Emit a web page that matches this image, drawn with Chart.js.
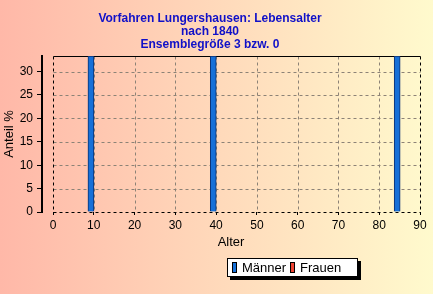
<!DOCTYPE html>
<html lang="de">
<head>
<meta charset="utf-8">
<title>Vorfahren Lungershausen: Lebensalter</title>
<script src="https://cdn.jsdelivr.net/npm/chart.js@4.4.0/dist/chart.umd.min.js"></script>
<style>
    html, body { margin: 0; padding: 0; }
    body {
        width: 433px; height: 294px; overflow: hidden; position: relative;
        background: linear-gradient(to right, #ffb8a8, #fffacd);
        font-family: "Liberation Sans", Arial, sans-serif;
    }
    #diagramm { position: absolute; left: 0; top: 0; }
    #legende {
        position: absolute; left: 227px; top: 258px; width: 129px; height: 17px;
        background: #fff; border: 1px solid #000; box-shadow: 3px 3px 0 #000;
        font-size: 13px; line-height: 17px; color: #000; white-space: nowrap;
    }
    #legende .eintrag { display: inline-block; margin-left: 4px; }
    #legende .farbe {
        display: inline-block; width: 3px; height: 9px; border: 1px solid #000;
        margin-right: 5px; vertical-align: -1px;
    }
</style>
</head>
<body>
<canvas id="diagramm" width="433" height="294"></canvas>
<div id="legende"></div>
<script>
// --- Daten ---
const titelZeilen = ['Vorfahren Lungershausen: Lebensalter', 'nach 1840', 'Ensemblegröße 3 bzw. 0'];
const maennerAlter = [9.3, 39.3, 84.4];
const maennerAnteil = [33.33, 33.33, 33.33];
const frauenAlter = [];
const frauenAnteil = [];
const xTickWerte = [0, 10, 20, 30, 40, 50, 60, 70, 80, 90];
const yTickWerte = [0, 5, 10, 15, 20, 25, 30];

const schrift = '"Liberation Sans", Arial, sans-serif';

function punkte(xs, ys) {
    return xs.map((x, i) => ({ x: x, y: ys[i] }));
}

// Gitter und Rahmen nur zwischen 0 und 90 zeichnen (die y-Achse steht etwas abseits)
const rahmenPlugin = {
    id: 'rahmen',
    beforeDatasetsDraw(chart) {
        const { ctx, scales: { x, y } } = chart;
        const links = Math.round(x.getPixelForValue(0)) + 0.5;
        const rechts = Math.round(x.getPixelForValue(90)) + 0.5;
        const oben = Math.round(y.getPixelForValue(y.max)) + 0.5;
        const unten = Math.round(y.getPixelForValue(0)) + 0.5;

        function linie(x1, y1, x2, y2) {
            ctx.beginPath();
            ctx.moveTo(x1, y1);
            ctx.lineTo(x2, y2);
            ctx.stroke();
        }

        ctx.save();
        ctx.lineWidth = 1;
        ctx.setLineDash([3, 3]);
        ctx.strokeStyle = '#8c8276';
        yTickWerte.forEach(v => {
            if (v === 0) return;
            const py = Math.round(y.getPixelForValue(v)) + 0.5;
            linie(links, py, rechts, py);
        });
        xTickWerte.forEach(v => {
            if (v === 0 || v === 90) return;
            const px = Math.round(x.getPixelForValue(v)) + 0.5;
            linie(px, oben, px, unten);
        });

        ctx.strokeStyle = '#000';
        linie(links, oben, links, unten);
        linie(rechts, oben, rechts, unten);
        linie(links, unten, rechts, unten);
        ctx.setLineDash([]);
        linie(links, oben, rechts, oben);
        ctx.restore();
    }
};

const datensaetze = [
    {
        label: 'Männer',
        data: punkte(maennerAlter, maennerAnteil),
        backgroundColor: '#1670d8',
        borderColor: '#0b2f70',
        borderWidth: 1
    },
    {
        label: 'Frauen',
        data: punkte(frauenAlter, frauenAnteil),
        backgroundColor: '#ee4433',
        borderColor: '#000',
        borderWidth: 1
    }
];

new Chart(document.getElementById('diagramm').getContext('2d'), {
    type: 'bar',
    data: { datasets: datensaetze },
    options: {
        responsive: false,
        animation: false,
        devicePixelRatio: 1,
        barThickness: 6,
        grouped: false,
        layout: { padding: { left: 0, right: 13, top: 0, bottom: 44 } },
        scales: {
            x: {
                type: 'linear',
                min: -2.7,
                max: 90,
                offset: false,
                afterBuildTicks: s => { s.ticks = xTickWerte.map(v => ({ value: v })); },
                afterFit: s => { s.height = 38; },
                ticks: { color: '#000', font: { family: schrift, size: 12 }, padding: 3, maxRotation: 0 },
                grid: { drawOnChartArea: false, offset: false, tickLength: 3, color: '#000' },
                border: { display: false },
                title: {
                    display: true, text: 'Alter', color: '#000',
                    font: { family: schrift, size: 13 }, padding: { top: 0, bottom: 0 }
                }
            },
            y: {
                min: 0,
                max: 33.33,
                afterBuildTicks: s => { s.ticks = yTickWerte.map(v => ({ value: v })); },
                afterFit: s => { s.width = 42; },
                ticks: { color: '#000', font: { family: schrift, size: 12 }, padding: 4 },
                grid: { drawOnChartArea: false, tickLength: 5, color: '#000' },
                border: { display: true, color: '#000', width: 2 },
                title: {
                    display: true, text: 'Anteil %', color: '#000',
                    font: { family: schrift, size: 13 }, padding: { top: 2, bottom: 0 }
                }
            }
        },
        plugins: {
            legend: { display: false },
            tooltip: { enabled: false },
            title: {
                display: true,
                text: titelZeilen,
                color: '#1010c8',
                font: { family: schrift, size: 12, weight: 'bold', lineHeight: 1.083 },
                padding: { top: 12.5, bottom: 4.5 }
            }
        }
    },
    plugins: [rahmenPlugin]
});

// Legende als HTML, aus den Datensätzen gebaut
const legende = document.getElementById('legende');
datensaetze.forEach(ds => {
    const eintrag = document.createElement('span');
    eintrag.className = 'eintrag';
    const farbe = document.createElement('span');
    farbe.className = 'farbe';
    farbe.style.background = ds.backgroundColor;
    eintrag.appendChild(farbe);
    eintrag.appendChild(document.createTextNode(ds.label));
    legende.appendChild(eintrag);
});
</script>
</body>
</html>
